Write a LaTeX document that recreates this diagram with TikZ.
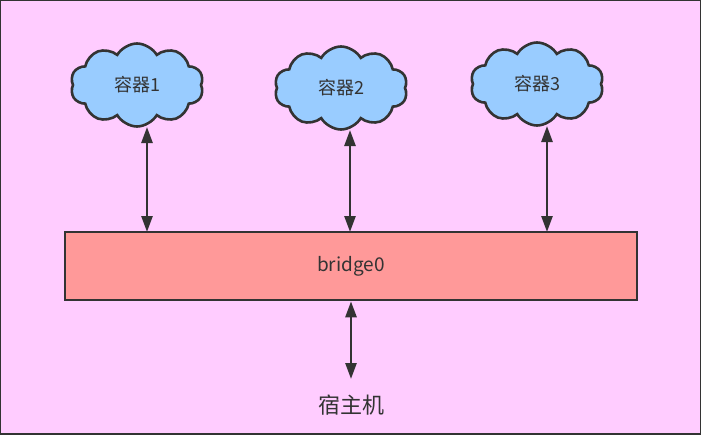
\documentclass[tikz,border=0pt]{standalone}
\usepackage{fontspec}
\setmainfont{Noto Sans CJK SC}
\usetikzlibrary{arrows.meta,shapes.symbols}
\definecolor{canvas}{HTML}{FFCCFF}
\definecolor{sky}{HTML}{99CCFF}
\definecolor{salmon}{HTML}{FF9999}
\definecolor{ink}{HTML}{333333}

\tikzset{
	box/.style={draw=ink, line width=2.6pt, fill=salmon, minimum width=572pt, minimum height=68pt, inner sep=0pt},
	puff/.style={cloud, cloud puffs=10, cloud puff arc=120, draw=ink, line width=2.6pt, fill=sky,
		minimum width=133pt, minimum height=83pt, inner sep=0pt, text=ink, font=\fontsize{18}{20}\selectfont},
	tip/.tip={Triangle[length=16pt,width=11pt]},
	link/.style={tip-tip, line width=2.6pt, draw=ink}
}

\begin{document}
\begin{tikzpicture}[x=1pt, y=-1pt]

	% ---- fondo ----
	\useasboundingbox (0,0) rectangle (701,434);
	\draw[draw=ink, line width=2.6pt, fill=canvas] (0,0) rectangle (701,434);

	% ---- contenitori ----
	\node[puff] (c1) at (137,85) {容器1};
	\node[puff] (c2) at (341,88) {容器2};
	\node[puff] (c3) at (537,84) {容器3};

	% ---- bridge ----
	\node[box, text=ink, font=\fontsize{19}{21}\selectfont] (br) at (351,266) {bridge0};

	% ---- host ----
	\node[text=ink, font=\fontsize{22}{24}\selectfont] (host) at (351,405) {宿主机};

	% ---- punti di attacco ----
	\coordinate (a1) at (147,127);
	\coordinate (a2) at (350,130);
	\coordinate (a3) at (547,126);
	\coordinate (p1) at (147,232);
	\coordinate (p2) at (350,232);
	\coordinate (p3) at (547,232);
	\coordinate (q) at (351,379);

	% ---- collegamenti ----
	\draw[link] (a1) -- (p1);
	\draw[link] (a2) -- (p2);
	\draw[link] (a3) -- (p3);
	\draw[link] (br.south) -- (q);

\end{tikzpicture}
\end{document}
